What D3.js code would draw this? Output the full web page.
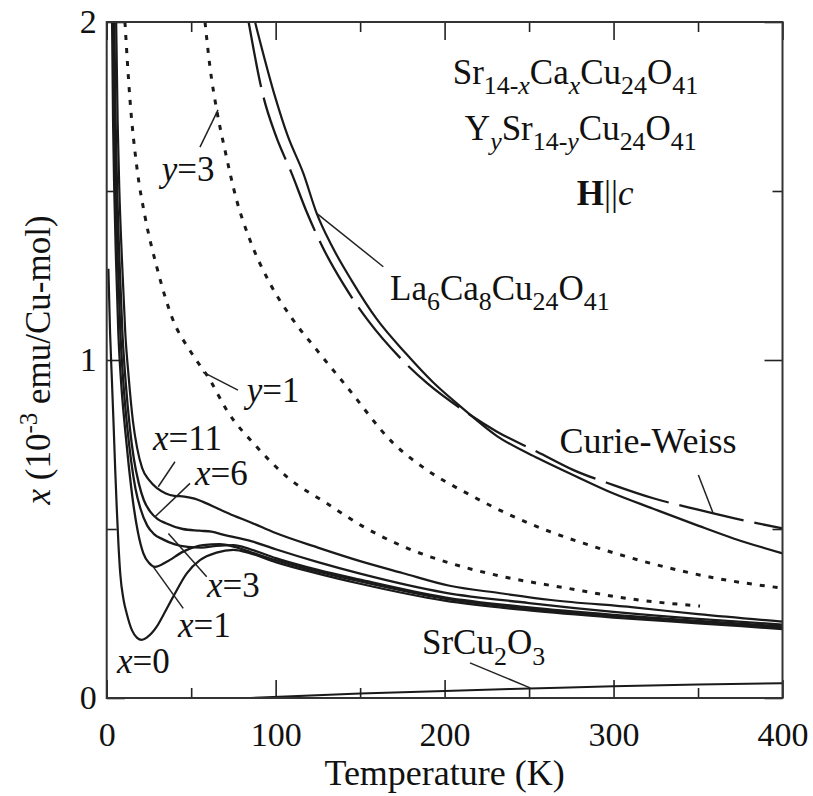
<!DOCTYPE html>
<html>
<head>
<meta charset="utf-8">
<script src="https://cdn.jsdelivr.net/npm/d3@7"></script>
<style>
  body { margin: 0; background: #fff; }
  svg text { font-family: "Liberation Serif", "Times New Roman", serif; fill: #111; }
</style>
</head>
<body>
<svg id="chart" width="813" height="796"></svg>
<script>

// susceptibility curves, [T (K), chi (1e-3 emu/Cu-mol)]
var x0_curve = [[1.0,1.27],[2,1.08],[3,0.95],[4,0.82],[5,0.68],[6,0.556],[7,0.45],[8,0.369],[10,0.29],[11.8,0.251],[15,0.2],[18,0.178],[20.7,0.172],[24,0.18],[29.6,0.211],[34,0.25],[39.4,0.3],[47.4,0.369],[55.2,0.408],[65,0.43],[75,0.438],[85,0.428],[100,0.402],[125,0.368],[150,0.338],[200,0.288],[250,0.259],[300,0.238],[350,0.221],[400,0.204]]
var x1_curve = [[3.2,2.0],[3.8,1.7],[4.5,1.5],[5.5,1.3],[6.9,1.08],[8.6,0.93],[10.8,0.8],[13,0.69],[15.7,0.576],[18.5,0.49],[21.7,0.428],[25,0.4],[28.6,0.388],[35.5,0.403],[45.3,0.433],[57,0.452],[67,0.455],[75,0.448],[85,0.432],[100,0.408],[125,0.374],[150,0.345],[200,0.294],[250,0.264],[300,0.243],[350,0.225],[400,0.208]]
var x3_curve = [[3.8,2.0],[4.5,1.7],[5.3,1.5],[6.5,1.3],[8.1,1.08],[9.9,0.93],[12.2,0.8],[14.5,0.7],[17,0.62],[20,0.56],[24,0.51],[28,0.485],[33,0.47],[40,0.455],[48,0.447],[56,0.445],[65,0.45],[75,0.452],[85,0.44],[100,0.414],[125,0.379],[150,0.35],[200,0.298],[250,0.268],[300,0.246],[350,0.228],[400,0.212]]
var x6_curve = [[4.5,2.0],[5.3,1.7],[6.2,1.5],[7.5,1.3],[9.3,1.08],[11.3,0.93],[13.7,0.8],[16,0.71],[19,0.635],[22,0.585],[26,0.55],[30,0.53],[35,0.517],[45,0.5],[55,0.495],[62,0.492],[70,0.482],[85,0.465],[100,0.44],[125,0.402],[150,0.368],[200,0.312],[250,0.281],[300,0.255],[350,0.234],[400,0.217]]
var x11_curve = [[5.6,2.0],[6.5,1.7],[7.5,1.5],[9,1.3],[11,1.08],[13,0.95],[15.5,0.82],[18,0.74],[21,0.68],[25,0.645],[30,0.62],[35,0.605],[40,0.598],[46,0.596],[52,0.59],[58,0.578],[66,0.56],[75,0.54],[85,0.52],[100,0.488],[125,0.445],[150,0.405],[175,0.37],[203,0.332],[233,0.31],[263,0.29],[312,0.268],[350,0.248],[400,0.226]]
var y1_curve = [[10.8,2.0],[13.8,1.769],[17.8,1.572],[22.7,1.424],[29.6,1.276],[38.5,1.128],[50.3,1.02],[61.1,0.941],[71,0.852],[88.8,0.743],[106.5,0.655],[130.2,0.576],[151.9,0.507],[175.6,0.448],[203.2,0.399],[234.7,0.359],[272.3,0.325],[311.7,0.292],[351.2,0.272]]
var y3_curve = [[58.2,2.0],[61.1,1.868],[65.1,1.74],[70,1.621],[76.9,1.473],[84.8,1.355],[96.6,1.227],[110.4,1.118],[124.3,1.03],[142.1,0.921],[169.6,0.754],[189.4,0.675],[213.1,0.606],[236.8,0.546],[262.4,0.492],[282.1,0.458],[321.6,0.399],[361,0.354],[400,0.325]]
var la_curve = [[87.8,2.0],[99.6,1.78],[107,1.665],[116.4,1.552],[124.3,1.434],[133,1.34],[145,1.235],[160,1.12],[177,1.02],[193,0.935],[210,0.86],[231,0.775],[255,0.71],[276,0.66],[300,0.605],[323.5,0.56],[350,0.51],[371,0.472],[400,0.428]]
var cw_curve = [[84,2.0],[92.7,1.78],[100,1.665],[109.5,1.552],[118.7,1.434],[128.2,1.33],[140,1.225],[155,1.115],[173,1.01],[190,0.93],[210,0.855],[231,0.788],[255,0.728],[276,0.675],[300,0.63],[323.5,0.591],[350,0.557],[371,0.532],[400,0.502]]
var srcu_curve = [[85,0.0],[150,0.013],[200,0.021],[250,0.028],[300,0.035],[350,0.04],[400,0.044]]

var x_ticks_major = [0, 100, 200, 300, 400]
var x_ticks_minor = [50, 150, 250, 350]
var y_ticks_major = [0, 1, 2]
var y_ticks_minor = [0.5, 1.5]

var svg = d3.select("#chart")
var x = d3.scaleLinear().domain([0, 400]).range([106.7, 782.5])
var y = d3.scaleLinear().domain([0, 2]).range([698, 22])

svg.append("defs").append("clipPath").attr("id", "plotclip")
  .append("rect")
    .attr("x", x(0)).attr("y", y(2))
    .attr("width", x(400) - x(0)).attr("height", y(0) - y(2))

// axes, ticks pointing inward on all four sides
function draw_axis(axis, tx, ty, labels){
  var g = svg.append("g").attr("transform", "translate(" + tx + "," + ty + ")").call(axis)
  g.select(".domain").remove()
  g.selectAll("line").attr("stroke", "#222").attr("stroke-width", 1.6)
  if (!labels) g.selectAll("text").remove()
  else g.selectAll("text").style("font-size", "34px").attr("fill", "#111")
  return g
}

draw_axis(d3.axisBottom(x).tickValues(x_ticks_major).tickSize(-18).tickPadding(24).tickFormat(d3.format("d")), 0, y(0), true)
draw_axis(d3.axisBottom(x).tickValues(x_ticks_minor).tickSize(-10).tickFormat(""), 0, y(0), false)
draw_axis(d3.axisTop(x).tickValues(x_ticks_major).tickSize(-18).tickFormat(""), 0, y(2), false)
draw_axis(d3.axisTop(x).tickValues(x_ticks_minor).tickSize(-10).tickFormat(""), 0, y(2), false)
draw_axis(d3.axisLeft(y).tickValues(y_ticks_major).tickSize(-18).tickPadding(10).tickFormat(d3.format("d")), x(0), 0, true)
draw_axis(d3.axisLeft(y).tickValues(y_ticks_minor).tickSize(-10).tickFormat(""), x(0), 0, false)
draw_axis(d3.axisRight(y).tickValues(y_ticks_major).tickSize(-18).tickFormat(""), x(400), 0, false)
draw_axis(d3.axisRight(y).tickValues(y_ticks_minor).tickSize(-10).tickFormat(""), x(400), 0, false)

var line = d3.line().x(function(d){ return x(d[0]) }).y(function(d){ return y(d[1]) }).curve(d3.curveMonotoneX)

var curves = svg.append("g").attr("clip-path", "url(#plotclip)")

function draw_curve(data, dash, sw){
  curves.append("path")
    .attr("fill", "none")
    .attr("stroke", "#1a1a1a")
    .attr("stroke-width", sw)
    .attr("stroke-dasharray", dash)
    .attr("d", line(data))
}

draw_curve(y1_curve, "5,8", 3)
draw_curve(y3_curve, "5,8", 3)
draw_curve(cw_curve, "66,11", 2.3)
draw_curve(la_curve, null, 2.2)
draw_curve(srcu_curve, null, 2)
draw_curve(x0_curve, null, 2.2)
draw_curve(x1_curve, null, 2.3)
draw_curve(x3_curve, null, 2.3)
draw_curve(x6_curve, null, 2.3)
draw_curve(x11_curve, null, 2.2)

svg.append("rect")
  .attr("x", x(0)).attr("y", y(2))
  .attr("width", x(400) - x(0)).attr("height", y(0) - y(2))
  .attr("fill", "none").attr("stroke", "#333").attr("stroke-width", 2)

// pointer lines, [T1, chi1, T2, chi2]
var pointers = [
  [124.3, 1.434, 163.7, 1.276],
  [350.2, 0.66, 359.0, 0.546],
  [55.2, 1.63, 65.9, 1.74],
  [77.7, 0.911, 57.0, 0.964],
  [40.4, 0.699, 30.5, 0.625],
  [49.3, 0.635, 28.6, 0.536],
  [59.2, 0.359, 36.5, 0.487],
  [45.3, 0.265, 27.6, 0.388],
  [215.0, 0.104, 250.6, 0.03]
]
svg.append("g").selectAll("line").data(pointers).join("line")
  .attr("x1", function(d){ return x(d[0]) }).attr("y1", function(d){ return y(d[1]) })
  .attr("x2", function(d){ return x(d[2]) }).attr("y2", function(d){ return y(d[3]) })
  .attr("stroke", "#222").attr("stroke-width", 1.5)

// text with sub/superscripts; flags: s sub, p sup, i italic, b bold
function rich(T, chi, parts, size, anchor){
  var t = svg.append("text").attr("x", x(T)).attr("y", y(chi))
    .style("font-size", size + "px").attr("text-anchor", anchor || "start")
  var shift = 0
  parts.forEach(function(p){
    var f = p[1]
    var target = f.indexOf("s") >= 0 ? size * 0.3 : (f.indexOf("p") >= 0 ? -size * 0.42 : 0)
    var ts = t.append("tspan").text(p[0]).attr("dy", target - shift)
    shift = target
    if (target != 0) ts.style("font-size", (size * 0.74) + "px")
    if (f.indexOf("i") >= 0) ts.style("font-style", "italic")
    if (f.indexOf("b") >= 0) ts.style("font-weight", "bold")
  })
  return t
}

var fs = 35
rich(204.8, 1.817, [["Sr","n"],["14-","s"],["x","si"],["Ca","n"],["x","si"],["Cu","n"],["24","s"],["O","n"],["41","s"]], fs)
rich(212.0, 1.652, [["Y","n"],["y","si"],["Sr","n"],["14-","s"],["y","si"],["Cu","n"],["24","s"],["O","n"],["41","s"]], fs)
rich(278.2, 1.459, [["H","b"],["||","n"],["c","i"]], fs)
rich(167.7, 1.178, [["La","n"],["6","s"],["Ca","n"],["8","s"],["Cu","n"],["24","s"],["O","n"],["41","s"]], fs)
rich(268.0, 0.724, [["Curie-Weiss","n"]], 36)
rich(186.6, 0.13, [["SrCu","n"],["2","s"],["O","n"],["3","s"]], fs)
rich(32.6, 1.531, [["y","i"],["=3","n"]], fs)
rich(82.9, 0.877, [["y","i"],["=1","n"]], fs)
rich(27.4, 0.734, [["x","i"],["=11","n"]], fs)
rich(52.3, 0.63, [["x","i"],["=6","n"]], fs)
rich(59.4, 0.299, [["x","i"],["=3","n"]], fs)
rich(42.2, 0.18, [["x","i"],["=1","n"]], fs)
rich(6.1, 0.074, [["x","i"],["=0","n"]], fs)

// axis titles
svg.append("text").attr("x", (x(0) + x(400)) / 2).attr("y", 785)
  .attr("text-anchor", "middle").style("font-size", "36px").text("Temperature (K)")

var ytitle = svg.append("text").attr("transform", "translate(50," + y(1) + ") rotate(-90)")
  .attr("text-anchor", "middle").style("font-size", "35px")
ytitle.append("tspan").style("font-style", "italic").text("x")
ytitle.append("tspan").text(" (10")
ytitle.append("tspan").attr("dy", -13).style("font-size", "25px").text("-3")
ytitle.append("tspan").attr("dy", 13).text(" emu/Cu-mol)")

</script>
</body>
</html>
